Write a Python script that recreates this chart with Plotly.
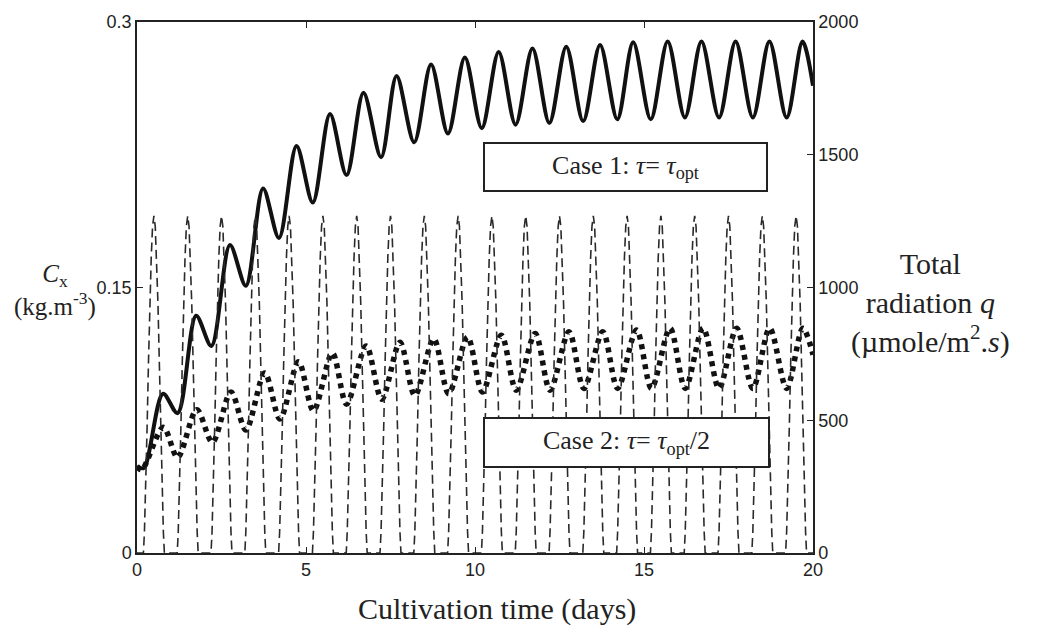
import plotly.graph_objects as go

# ---------------- data ----------------
# Case 1 (tau = tau_opt): biomass concentration Cx (kg/m3), peaks & troughs
case1_t = [0.0, 0.2, 0.77, 1.2, 1.75, 2.2, 2.75, 3.22, 3.73, 4.2, 4.72, 5.2, 5.71, 6.2, 6.7,
           7.22, 7.68, 8.2, 8.7, 9.2, 9.7, 10.2, 10.7, 11.2, 11.7, 12.2, 12.7, 13.2, 13.7,
           14.21, 14.68, 15.2, 15.7, 16.21, 16.7, 17.22, 17.71, 18.22, 18.71, 19.22, 19.69, 20.0]
case1_cx = [0.049, 0.048, 0.090, 0.079, 0.134, 0.117, 0.174, 0.151, 0.206, 0.178, 0.230, 0.198,
            0.248, 0.2135, 0.260, 0.2236, 0.2695, 0.232, 0.276, 0.237, 0.280, 0.240, 0.283,
            0.242, 0.285, 0.243, 0.286, 0.244, 0.287, 0.245, 0.2885, 0.245, 0.289, 0.246, 0.289,
            0.246, 0.289, 0.246, 0.289, 0.246, 0.289, 0.264]

# Case 2 (tau = tau_opt/2)
case2_t = [0.0, 0.14, 0.78, 1.2, 1.77, 2.23, 2.78, 3.22, 3.78, 4.23, 4.78, 5.22, 5.78, 6.2, 6.78,
           7.24, 7.78, 8.22, 8.78, 9.22, 9.78, 10.22, 10.78, 11.22, 11.78, 12.22, 12.78, 13.22,
           13.78, 14.22, 14.78, 15.22, 15.77, 16.22, 16.75, 17.22, 17.74, 18.22, 18.72, 19.22,
           19.7, 20.0]
case2_cx = [0.049, 0.047, 0.071, 0.054, 0.081, 0.0625, 0.091, 0.0695, 0.1017, 0.0757, 0.108,
            0.0803, 0.113, 0.0841, 0.117, 0.0869, 0.119, 0.089, 0.121, 0.090, 0.122, 0.091,
            0.123, 0.092, 0.124, 0.092, 0.125, 0.093, 0.125, 0.093, 0.126, 0.093, 0.127, 0.093,
            0.127, 0.093, 0.127, 0.093, 0.127, 0.093, 0.127, 0.112]

# Total radiation q: one daily profile (fraction of day, umole/m2.s), identical each day
q_day_frac = [0.0, 0.19, 0.22, 0.26, 0.30, 0.34, 0.38, 0.42, 0.46, 0.50,
              0.54, 0.58, 0.62, 0.66, 0.70, 0.74, 0.78, 0.81]
q_day_vals = [0, 0, 80, 250, 480, 720, 940, 1110, 1230, 1270,
              1230, 1110, 940, 720, 480, 250, 80, 0]
n_days = 20

x_ticks = [0, 5, 10, 15, 20]
y_ticks = [0, 0.15, 0.3]
y_ticklabels = ["0", "0.15", "0.3"]
y2_ticks = [0, 500, 1000, 1500, 2000]

# build radiation series from the daily profile
rad_t, rad_q = [], []
for d in range(n_days):
    for f, v in zip(q_day_frac, q_day_vals):
        rad_t.append(d + f)
        rad_q.append(v)
rad_t.append(n_days)
rad_q.append(0)

SERIF = "Liberation Serif, Times New Roman, serif"
SANS = "Liberation Sans, Arial, sans-serif"

W, H = 1042, 631
L, R, T, B = 137, 813, 19, 553


def px(xp):
    return (xp - L) / (R - L)


def py(yp):
    return (B - yp) / (B - T)


fig = go.Figure()
fig.add_trace(go.Scatter(x=rad_t, y=rad_q, yaxis="y2", mode="lines",
                         line=dict(color="#2a2a2a", width=1.6, dash="9px,5px"),
                         showlegend=False, hoverinfo="skip"))
fig.add_trace(go.Scatter(x=case1_t, y=case1_cx, mode="lines",
                         line=dict(color="#111111", width=4, shape="spline", smoothing=0.9),
                         showlegend=False))
fig.add_trace(go.Scatter(x=case2_t, y=case2_cx, mode="lines",
                         line=dict(color="#111111", width=5.5, dash="5px,5px", shape="spline", smoothing=0.9),
                         showlegend=False))

axis_common = dict(showgrid=False, zeroline=False, showline=True, linecolor="#222",
                   linewidth=1.5, ticks="inside", ticklen=6, tickcolor="#222",
                   tickfont=dict(family=SANS, size=18, color="#222"))

fig.update_layout(
    width=W, height=H,
    margin=dict(l=L, r=W - R, t=T, b=H - B),
    paper_bgcolor="white", plot_bgcolor="white",
    xaxis=dict(range=[0, 20], tickvals=x_ticks, mirror="ticks", **axis_common),
    yaxis=dict(range=[0, 0.3], tickvals=y_ticks, ticktext=y_ticklabels, **axis_common),
    yaxis2=dict(range=[0, 2000], tickvals=y2_ticks, overlaying="y", side="right",
                **axis_common),
    showlegend=False,
)

annotations = [
    dict(text="Case 1: <i>τ</i>= <i>τ</i><sub>opt</sub>", x=14.45, y=0.218, xref="x", yref="y",
         showarrow=False, font=dict(family=SERIF, size=26, color="#222"),
         bgcolor="white", bordercolor="#222", borderwidth=2, borderpad=0,
         width=281, height=46),
    dict(text="Case 2: <i>τ</i>= <i>τ</i><sub>opt</sub>/2", x=14.48, y=0.0624, xref="x", yref="y",
         showarrow=False, font=dict(family=SERIF, size=26, color="#222"),
         bgcolor="white", bordercolor="#222", borderwidth=2, borderpad=0,
         width=283, height=47),
    dict(text="Cultivation time (days)", x=px(497), y=py(609), xref="paper", yref="paper",
         showarrow=False, font=dict(family=SERIF, size=30, color="#222"),
         xanchor="center", yanchor="middle"),
    dict(text="<i>C</i><sub>x</sub><br>(kg.m<sup>-3</sup>)", x=px(55), y=py(289),
         xref="paper", yref="paper", showarrow=False, align="center",
         font=dict(family=SERIF, size=25, color="#222"), xanchor="center", yanchor="middle"),
    dict(text="Total<br>radiation <i>q</i><br>(µmole/m<sup>2</sup>.<i>s</i>)", x=px(931),
         y=py(302), xref="paper", yref="paper", showarrow=False, align="center",
         font=dict(family=SERIF, size=30, color="#222"), xanchor="center", yanchor="middle"),
]
fig.update_layout(annotations=annotations)

fig.write_html("out.html")
